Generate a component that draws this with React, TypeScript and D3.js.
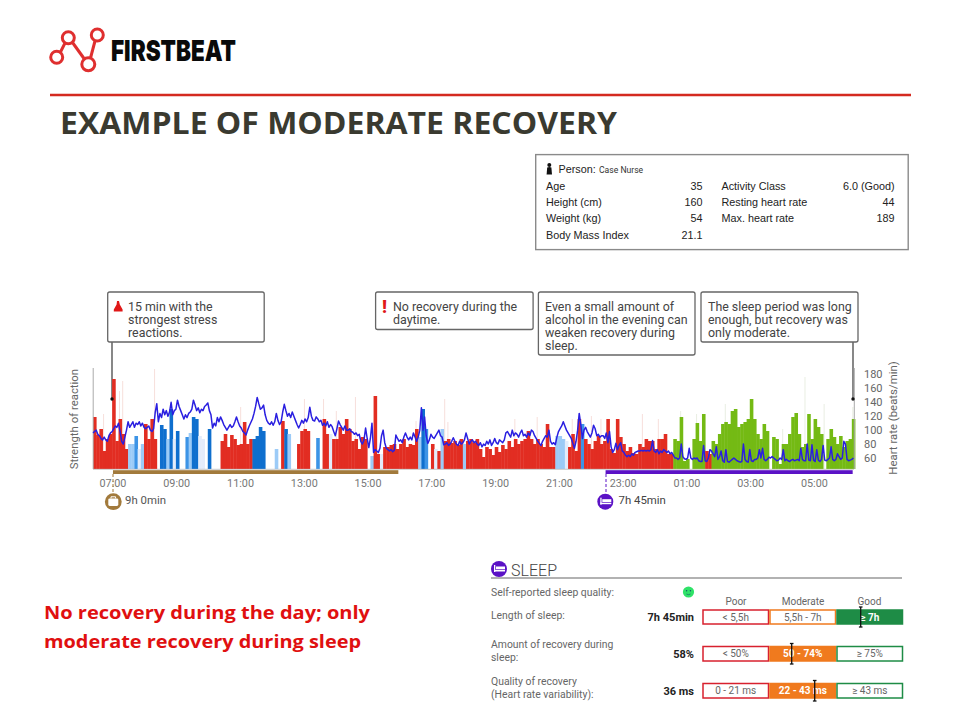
import * as d3 from "d3";

const WIDTH = 960;
const HEIGHT = 720;
const EPOCH_MIN = 6; // one bar per 6 minutes
const HR_STEP_MIN = 3; // one heart rate sample per 3 minutes
const START_MIN = 382.4; // 06:22
const END_MIN = 1813;

// strength of reaction per epoch, one line = 10 bars
const barValues = [
  52, 34, 40, 18, 30, 35, 90, 28, 50, 35,
  20, 25, 25, 33, 20, 25, 45, 30, 50, 30,
  0, 44, 40, 30, 60, 30, 38, 0, 0, 32,
  36, 52, 50, 33, 30, 0, 40, 0, 0, 0,
  28, 35, 22, 34, 30, 24, 25, 47, 25, 30,
  30, 33, 42, 38, 0, 0, 0, 20, 0, 48,
  40, 35, 0, 0, 25, 38, 40, 38, 0, 0,
  31, 0, 50, 35, 35, 30, 30, 42, 35, 50,
  40, 28, 30, 20, 32, 30, 0, 13, 73, 15,
  15, 22, 22, 24, 25, 20, 25, 30, 22, 25,
  24, 40, 32, 60, 40, 0, 25, 20, 18, 40,
  28, 30, 26, 28, 24, 30, 25, 28, 30, 26,
  30, 20, 12, 22, 20, 14, 22, 17, 24, 20,
  28, 22, 30, 25, 28, 30, 38, 30, 25, 30,
  25, 22, 45, 22, 22, 33, 33, 30, 28, 22,
  35, 18, 50, 45, 30, 25, 20, 28, 33, 25,
  28, 50, 20, 16, 50, 32, 25, 18, 22, 16,
  15, 25, 22, 30, 28, 28, 20, 30, 30, 35,
  15, 15, 30, 28, 52, 8, 10, 0, 30, 46,
  28, 55, 18, 15, 28, 25, 35, 45, 47, 45,
  58, 60, 42, 45, 47, 50, 70, 50, 35, 30,
  45, 38, 0, 32, 30, 5, 25, 25, 35, 52,
  56, 35, 22, 25, 55, 30, 50, 42, 35, 0,
  30, 40, 32, 25, 33, 22, 28, 30, 50,
];

// r stress, d/m/l/p recovery-from-activity blues, g recovery, . nothing
const barKinds = [
  "rrrrrrrrrr", "rllmplrrrr", ".ddldpd..m", "lddpp.d...", "rrrrrrrrrr", "dddd...l.r",
  "dl..rrrr..", "m.rrprrrrr", "rrrrrr.lrr", "prrrrrrrrr", "rrldm.rprl", "rrrrrrlrrr",
  "rrrrrrrrrr", "rrrrrrrrrr", "rrrrrlllpr", "rrrmrrrrrr", "rrrrrrrrrr", "rrrrrrrrrr",
  "rrggggg.gg", "ggrrgggggg", "gggggggggg", "gg.ggggggg", "ggggggggg.", "ggggggggg",
].join("");

// thin pale peaks above the bars
const spikeEpochs = [3, 8, 9, 19, 46, 66, 72, 76, 82, 101, 110, 111, 132, 139, 150, 156, 159, 172, 177, 184, 189, 198, 216, 223, 229, 238];
const spikeValues = [55, 78, 88, 100, 62, 70, 70, 58, 72, 48, 70, 47, 50, 52, 50, 53, 50, 55, 50, 58, 55, 65, 40, 92, 65, 62];

// beats/min every 3 minutes, one line = one hour
const heartRate = [
  96, 98, 100, 94, 92, 88, 86, 90, 86, 84, 92, 96, 98, 102, 106, 104, 110, 98, 84, 80,
  90, 100, 112, 104, 108, 112, 104, 110, 108, 112, 106, 110, 104, 102, 104, 106, 100, 98, 102, 125,
  138, 112, 124, 118, 130, 122, 128, 120, 126, 140, 122, 128, 130, 143, 134, 128, 122, 116, 122, 118,
  124, 126, 130, 143, 136, 128, 132, 125, 130, 128, 134, 136, 139, 128, 122, 103, 110, 106, 118, 112,
  119, 114, 108, 104, 100, 104, 108, 104, 106, 112, 119, 112, 106, 103, 98, 96, 93, 100, 106, 111,
  116, 124, 134, 147, 138, 130, 132, 136, 122, 114, 110, 108, 112, 107, 112, 124, 114, 108, 112, 126,
  137, 128, 120, 124, 118, 126, 120, 114, 108, 103, 108, 114, 110, 116, 112, 118, 133, 120, 114, 113,
  119, 116, 112, 114, 107, 110, 106, 112, 104, 108, 105, 98, 92, 102, 113, 108, 104, 100, 106, 100,
  100, 102, 98, 97, 94, 96, 92, 94, 84, 80, 86, 103, 88, 75, 88, 110, 68, 72, 70, 68,
  74, 92, 100, 82, 74, 72, 70, 72, 69, 71, 93, 88, 84, 86, 82, 90, 96, 90, 86, 90,
  86, 96, 90, 84, 90, 100, 132, 100, 119, 92, 81, 86, 94, 90, 88, 92, 96, 100, 92, 90,
  79, 80, 82, 78, 80, 84, 89, 84, 80, 78, 84, 80, 82, 86, 96, 88, 80, 84, 86, 82,
  84, 80, 78, 82, 76, 80, 78, 84, 80, 86, 78, 82, 88, 82, 80, 86, 84, 82, 86, 96,
  98, 94, 90, 100, 92, 96, 94, 90, 96, 100, 92, 94, 90, 96, 92, 100, 98, 92, 88, 84,
  81, 78, 84, 88, 92, 90, 100, 84, 80, 82, 79, 90, 98, 102, 106, 112, 106, 100, 96, 92,
  88, 81, 74, 84, 100, 124, 108, 88, 100, 104, 98, 94, 90, 96, 107, 102, 92, 94, 90, 92,
  92, 88, 96, 82, 98, 76, 68, 72, 81, 72, 78, 82, 70, 68, 64, 62, 64, 62, 66, 64,
  68, 69, 70, 70, 71, 70, 71, 70, 71, 70, 72, 85, 70, 68, 72, 66, 70, 68, 72, 70,
  68, 70, 66, 68, 64, 60, 60, 58, 60, 80, 62, 59, 58, 60, 74, 60, 58, 60, 59, 60,
  56, 55, 55, 78, 56, 55, 60, 72, 70, 66, 62, 76, 58, 62, 70, 56, 54, 72, 55, 54,
  56, 58, 60, 58, 56, 55, 54, 55, 80, 58, 55, 54, 72, 56, 55, 58, 58, 60, 72, 60,
  74, 58, 56, 58, 61, 60, 62, 60, 58, 56, 57, 60, 58, 72, 56, 58, 56, 55, 57, 58,
  56, 57, 58, 56, 74, 58, 56, 56, 80, 57, 56, 79, 57, 55, 72, 57, 55, 58, 78, 57,
  56, 58, 60, 76, 58, 56, 58, 66, 62, 58, 60, 84, 80, 58, 56, 57, 58, 60,
];

const timeTicks = ["07:00", "09:00", "11:00", "13:00", "15:00", "17:00", "19:00", "21:00", "23:00", "01:00", "03:00", "05:00"];
const hrTicks = [60, 80, 100, 120, 140, 160, 180];

const personLeft = [["Age", "35"], ["Height (cm)", "160"], ["Weight (kg)", "54"], ["Body Mass Index", "21.1"]];
const personRight = [["Activity Class", "6.0 (Good)"], ["Resting heart rate", "44"], ["Max. heart rate", "189"]];

const sleepHeaders = ["Poor", "Moderate", "Good"];
const sleepValues = ["7h 45min", "58%", "36 ms"];
const sleepRanges = [
  ["< 5,5h", "5,5h - 7h", "≥ 7h"],
  ["< 50%", "50 - 74%", "≥ 75%"],
  ["0 - 21 ms", "22 - 43 ms", "≥ 43 ms"],
];
const sleepActive = [2, 1, 1];
const sleepMarks = [860.7, 791.7, 814.7];

const kindColor: Record<string, string> = {
  r: "#e22d22",
  d: "#0f6fce",
  m: "#3d94e6",
  l: "#9ccbf7",
  p: "#e3ecfb",
  g: "#74ba14",
};

const ROBOTO = "Roboto, sans-serif";
const ARIAL = "'Liberation Sans', Arial, sans-serif";
const OPEN = "'Open Sans', sans-serif";

const x = d3.scaleLinear().domain([START_MIN, END_MIN]).range([93, 853.2]);
const yBar = d3.scaleLinear().domain([0, 100]).range([469, 369]);
const yHr = d3.scaleLinear().domain([60, 180]).range([458, 374.4]);

const tickMinutes = (t: string) => {
  const [h, m] = t.split(":").map(Number);
  return (h < 7 ? h + 24 : h) * 60 + m;
};

const hrLine = d3
  .line<number>()
  .x((_, i) => x(START_MIN + i * HR_STEP_MIN))
  .y((d) => yHr(d))
  .curve(d3.curveLinear);

const Callout = ({ bx, by, w, h, lines, tx }: { bx: number; by: number; w: number; h: number; lines: string[]; tx: number }) => (
  <g>
    <rect x={bx} y={by} width={w} height={h} rx={2} fill="#fff" stroke="#666" strokeWidth={1.3} />
    {lines.map((l, i) => (
      <text key={i} x={tx} y={by + 18.5 + i * 13} fontFamily={ROBOTO} fontSize={12.4} fill="#444">
        {l}
      </text>
    ))}
  </g>
);

const SleepRow = ({ row, y, h }: { row: number; y: number; h: number }) => {
  const cols = [703, 770, 837];
  const w = 65.5;
  const strokes = ["#d8212e", "#f07a1e", "#1e8c46"];
  return (
    <g>
      {sleepRanges[row].map((t, c) => {
        const active = sleepActive[row] === c;
        return (
          <g key={c}>
            <rect
              x={cols[c]}
              y={y}
              width={w}
              height={h}
              fill={active ? strokes[c] : "#fff"}
              stroke={strokes[c]}
              strokeWidth={1.5}
            />
            <text
              x={cols[c] + w / 2}
              y={y + h / 2 + 3.6}
              textAnchor="middle"
              fontFamily={ROBOTO}
              fontSize={10}
              fontWeight={active ? 700 : 400}
              fill={active ? "#fff" : "#666"}
            >
              {t}
            </text>
          </g>
        );
      })}
      <text x={694} y={y + h / 2 + 3.8} textAnchor="end" fontFamily={ROBOTO} fontSize={11} fontWeight={700} fill="#222">
        {sleepValues[row]}
      </text>
      <line x1={sleepMarks[row]} x2={sleepMarks[row]} y1={y - 3} y2={y + h + 3} stroke="#111" strokeWidth={1.3} />
      <line x1={sleepMarks[row] - 1.8} x2={sleepMarks[row] + 1.8} y1={y - 3} y2={y - 3} stroke="#111" strokeWidth={1.3} />
      <line x1={sleepMarks[row] - 1.8} x2={sleepMarks[row] + 1.8} y1={y + h + 3} y2={y + h + 3} stroke="#111" strokeWidth={1.3} />
    </g>
  );
};

const SleepIcon = ({ cx, cy }: { cx: number; cy: number }) => (
  <g>
    <circle cx={cx} cy={cy} r={8} fill="#5b12c6" />
    <rect x={cx - 3} y={cy - 2.5} width={9} height={2.8} fill="#fff" />
    <rect x={cx - 5} y={cy + 1} width={11} height={1.5} fill="#fff" />
    <rect x={cx - 5} y={cy - 4} width={1.3} height={7} fill="#fff" />
  </g>
);

export default function App() {
  const barWidth = x(START_MIN + EPOCH_MIN) - x(START_MIN);
  return (
    <svg width={WIDTH} height={HEIGHT} style={{ position: "absolute", left: 0, top: 0, background: "#fff" }}>
      {/* logo */}
      <g fill="none" stroke="#df2f2f" strokeWidth={3}>
        <line x1={60.5} y1={52} x2={65} y2={43} />
        <line x1={72.5} y1={42.5} x2={84} y2={58.5} />
        <line x1={90.5} y1={58} x2={95} y2={41} />
        <circle cx={68.3} cy={37.7} r={6} />
        <circle cx={56.7} cy={57.3} r={6} />
        <circle cx={88.3} cy={64.3} r={6.5} />
        <circle cx={97.3} cy={35} r={6} />
      </g>
      <text x={111} y={60.5} fontFamily="Inter, sans-serif" fontWeight={900} fontSize={29} textLength={125} lengthAdjust="spacingAndGlyphs" fill="#0a0a0a">
        FIRSTBEAT
      </text>
      <line x1={50} x2={911} y1={95} y2={95} stroke="#d42a20" strokeWidth={2.6} />
      <text x={60} y={134} fontFamily={OPEN} fontWeight={700} fontSize={31} textLength={557} lengthAdjust="spacingAndGlyphs" fill="#3a3a30">
        EXAMPLE OF MODERATE RECOVERY
      </text>

      {/* person box */}
      <rect x={535.7} y={154.6} width={372.5} height={95} fill="#fff" stroke="#8a8a8a" strokeWidth={1.4} />
      <circle cx={549.3} cy={165} r={2} fill="#111" />
      <path d="M546.6 174.5 L547.2 167.6 Q549.3 166.4 551.4 167.6 L552 174.5 Z" fill="#111" />
      <text x={558.5} y={173} fontFamily={ARIAL} fontSize={10.8} fill="#222">
        Person:
      </text>
      <text x={599} y={173} fontFamily={ROBOTO} fontSize={8.6} fill="#333">
        Case Nurse
      </text>
      {personLeft.map(([k, v], i) => (
        <g key={k} fontFamily={ARIAL} fontSize={10.8} fill="#222">
          <text x={546} y={189.5 + i * 16.4}>{k}</text>
          <text x={702.5} y={189.5 + i * 16.4} textAnchor="end">{v}</text>
        </g>
      ))}
      {personRight.map(([k, v], i) => (
        <g key={k} fontFamily={ARIAL} fontSize={10.8} fill="#222">
          <text x={721.5} y={189.5 + i * 16.4}>{k}</text>
          <text x={894.5} y={189.5 + i * 16.4} textAnchor="end">{v}</text>
        </g>
      ))}

      {/* callouts */}
      <line x1={112} x2={112} y1={342} y2={399} stroke="#555" strokeWidth={1.4} />
      <line x1={853} x2={853} y1={342} y2={399} stroke="#555" strokeWidth={1.4} />
      <Callout bx={107.7} by={292} w={156.5} h={50} tx={128} lines={["15 min with the", "strongest stress", "reactions."]} />
      <path d="M117 301 h2 l0.8 3.5 l2.8 5 v2 h-8.8 v-2 l2.8 -5 z" fill="#e01818" />
      <Callout bx={375.6} by={292} w={157.5} h={37.5} tx={393} lines={["No recovery during the", "daytime."]} />
      <text x={384.5} y={313} textAnchor="middle" fontFamily={ROBOTO} fontWeight={900} fontSize={18} fill="#e01818">
        !
      </text>
      <Callout bx={538.4} by={292} w={156.6} h={63} tx={545} lines={["Even a small amount of", "alcohol in the evening can", "weaken recovery during", "sleep."]} />
      <Callout bx={701} by={292} w={157} h={50} tx={708} lines={["The sleep period was long", "enough, but recovery was", "only moderate."]} />

      {/* pale peaks */}
      {spikeEpochs.map((e, i) => (
        <line
          key={e}
          x1={x(START_MIN + e * EPOCH_MIN) + 1}
          x2={x(START_MIN + e * EPOCH_MIN) + 1}
          y1={yBar(0)}
          y2={yBar(spikeValues[i])}
          stroke={e > 183 ? "#e9eee2" : "#f7dfdb"}
          strokeWidth={1}
        />
      ))}

      {/* reaction bars */}
      {barValues.map((v, i) =>
        barKinds[i] === "." ? null : (
          <rect
            key={i}
            x={x(START_MIN + i * EPOCH_MIN)}
            y={yBar(v)}
            width={barWidth + 0.4}
            height={yBar(0) - yBar(v)}
            fill={kindColor[barKinds[i]]}
          />
        )
      )}

      {/* axes */}
      <line x1={93.2} x2={93.2} y1={368} y2={469} stroke="#aaa" strokeWidth={1} />
      <line x1={854.3} x2={854.3} y1={368} y2={469} stroke="#aaa" strokeWidth={1} />
      <line x1={93} x2={854} y1={469.3} y2={469.3} stroke="#bbb" strokeWidth={0.8} />

      <path d={hrLine(heartRate) ?? ""} fill="none" stroke="#2a1fe0" strokeWidth={1.5} strokeLinejoin="round" />

      <circle cx={112} cy={399} r={1.7} fill="#111" />
      <circle cx={853} cy={399} r={1.7} fill="#111" />

      {hrTicks.map((t) => (
        <text key={t} x={864} y={yHr(t) + 3.9} fontFamily={ROBOTO} fontSize={11} fill="#666">
          {t}
        </text>
      ))}
      <text transform="translate(77.5,419) rotate(-90)" textAnchor="middle" fontFamily={ROBOTO} fontSize={11.4} fill="#666">
        Strength of reaction
      </text>
      <text transform="translate(897,418) rotate(-90)" textAnchor="middle" fontFamily={ROBOTO} fontSize={11.4} fill="#666">
        Heart rate (beats/min)
      </text>

      {/* work and sleep periods */}
      <rect x={x(420)} y={470.2} width={x(957) - x(420)} height={3.8} fill="#a27a3c" />
      <rect x={x(1347)} y={470.2} width={x(1347 + 465) - x(1347)} height={3.8} fill="#5b12c6" />
      {timeTicks.map((t) => (
        <text key={t} x={x(tickMinutes(t))} y={487} textAnchor="middle" fontFamily={ROBOTO} fontSize={10.8} fill="#777">
          {t}
        </text>
      ))}
      <line x1={113} x2={113} y1={474} y2={494} stroke="#a27a3c" strokeWidth={1} strokeDasharray="3 2" />
      <circle cx={113.3} cy={501.7} r={8.4} fill="#a27a3c" />
      <rect x={108.3} y={498.4} width={10} height={7.6} rx={1.4} fill="#fff" />
      <path d="M111 498.4 v-1.6 h4.6 v1.6" fill="none" stroke="#fff" strokeWidth={1} />
      <text x={125} y={504} fontFamily={ROBOTO} fontSize={11.4} fill="#555">
        9h 0min
      </text>
      <line x1={606} x2={606} y1={474} y2={494} stroke="#5b12c6" strokeWidth={1} strokeDasharray="3 2" />
      <SleepIcon cx={605.3} cy={501.7} />
      <text x={618.5} y={504} fontFamily={ROBOTO} fontSize={11.4} fill="#444">
        7h 45min
      </text>

      {/* conclusion */}
      <text x={44} y={619} fontFamily={OPEN} fontWeight={700} fontSize={18} textLength={326} lengthAdjust="spacingAndGlyphs" fill="#e01010">
        No recovery during the day; only
      </text>
      <text x={44} y={648} fontFamily={OPEN} fontWeight={700} fontSize={18} textLength={317} lengthAdjust="spacingAndGlyphs" fill="#e01010">
        moderate recovery during sleep
      </text>

      {/* sleep panel */}
      <SleepIcon cx={499} cy={569} />
      <text x={511} y={575.5} fontFamily={ROBOTO} fontWeight={300} fontSize={16} fill="#444">
        SLEEP
      </text>
      <line x1={491} x2={902} y1={578} y2={578} stroke="#999" strokeWidth={1.3} />
      <g fontFamily={ROBOTO} fontSize={10.4} fill="#666">
        <text x={491} y={595.5}>Self-reported sleep quality:</text>
        <text x={491} y={619}>Length of sleep:</text>
        <text x={491} y={648}>Amount of recovery during</text>
        <text x={491} y={661}>sleep:</text>
        <text x={491} y={685}>Quality of recovery</text>
        <text x={491} y={698}>(Heart rate variability):</text>
      </g>
      <circle cx={688.5} cy={592} r={5.6} fill="#2fe268" />
      <circle cx={686.6} cy={590.8} r={0.7} fill="#156" />
      <circle cx={690.4} cy={590.8} r={0.7} fill="#156" />
      <path d="M686.4 594 Q688.5 595.4 690.6 594" fill="none" stroke="#156" strokeWidth={0.6} />
      {sleepHeaders.map((t, i) => (
        <text key={t} x={[736, 803, 869.5][i]} y={605} textAnchor="middle" fontFamily={ROBOTO} fontSize={10} fill="#666">
          {t}
        </text>
      ))}
      <SleepRow row={0} y={610} h={14} />
      <SleepRow row={1} y={646.5} h={14.5} />
      <SleepRow row={2} y={683.5} h={14.5} />
    </svg>
  );
}
